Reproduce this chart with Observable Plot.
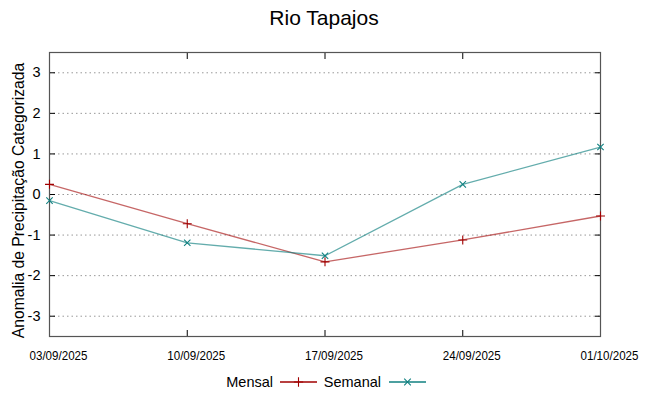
<!DOCTYPE html>
<html><head><meta charset="utf-8">
<script src="https://cdn.jsdelivr.net/npm/d3@7"></script>
<script src="https://cdn.jsdelivr.net/npm/@observablehq/plot@0.6"></script>
<style>
body{margin:0;background:#fff;font-family:"Liberation Sans",Arial,sans-serif;}
#wrap{position:relative;width:648px;height:396px;overflow:hidden;}
#title{position:absolute;top:6px;left:0;width:648px;text-align:center;font-size:21px;color:#000;}
#legend{position:absolute;left:0;top:370px;}
#chart{position:absolute;left:0;top:0;}
</style></head>
<body><div id="wrap"><div id="chart"></div><div id="title">Rio Tapajos</div><div id="legend"></div></div>
<script>
const dates = ["2025-09-03","2025-09-10","2025-09-17","2025-09-24","2025-10-01"];
const mensal = [0.25, -0.72, -1.66, -1.12, -0.53];
const semanal = [-0.15, -1.19, -1.51, 0.25, 1.17];
const yTicks = [-3,-2,-1,0,1,2,3];
const title = "Rio Tapajos";
const yLabel = "Anomalia de Precipitação Categorizada";

const parse = d3.utcParse("%Y-%m-%d");
const xDates = dates.map(parse);
const mData = xDates.map((d,i)=>({date:d,v:mensal[i]}));
const sData = xDates.map((d,i)=>({date:d,v:semanal[i]}));
const fmt = d3.utcFormat("%d/%m/%Y");
const cM = "#a00000", cS = "#108080";

const plot = Plot.plot({
  width:648, height:396,
  marginLeft:49, marginRight:48, marginTop:52, marginBottom:60,
  style:{fontFamily:"Liberation Sans, Arial, sans-serif", background:"white", overflow:"visible"},
  x:{type:"utc", domain:[xDates[0], xDates[xDates.length-1]]},
  y:{domain:[-3.5,3.5]},
  marks:[
    Plot.ruleY(yTicks,{stroke:"#999",strokeDasharray:"1.5,3",strokeWidth:1}),
    Plot.axisY({ticks:yTicks, anchor:"left", tickSize:-6, label:null, tickFormat:()=>"" , stroke:"#000"}),
    Plot.axisY({ticks:yTicks, anchor:"right", tickSize:-6, label:null, tickFormat:()=>"", stroke:"#000"}),
    Plot.axisY({ticks:yTicks, anchor:"left", tickSize:0, tickPadding:9, fontSize:14.5, label:null, tickFormat:d=>String(d).replace("−","-")}),
    Plot.axisX({ticks:xDates, anchor:"bottom", tickSize:-6, tickFormat:()=>"", label:null}),
    Plot.axisX({ticks:xDates, anchor:"top", tickSize:-6, tickFormat:()=>"", label:null}),
    Plot.axisX({ticks:xDates, anchor:"bottom", tickSize:0, tickPadding:14, dx:9, fontSize:13, label:null, tickFormat:fmt}),
    Plot.frame({stroke:"#555", strokeWidth:1.2}),
    Plot.line(mData,{x:"date",y:"v",stroke:cM,strokeWidth:1.3,strokeOpacity:0.6}),
    Plot.line(sData,{x:"date",y:"v",stroke:cS,strokeWidth:1.3,strokeOpacity:0.65}),
    Plot.dot(mData,{x:"date",y:"v",symbol:"plus",r:3,stroke:cM,strokeWidth:1.1}),
    Plot.dot(sData,{x:"date",y:"v",symbol:"times",r:3,stroke:cS,strokeWidth:1.1}),
    Plot.text([yLabel],{frameAnchor:"left",dx:-31,dy:6,rotate:-90,fontSize:15.7,fill:"#000",textAnchor:"middle"})
  ]
});
document.getElementById("chart").appendChild(plot);
d3.select(plot).selectAll("text").each(function(){
  if (/^\d\d\/\d\d\/\d{4}$/.test(this.textContent.trim())) {
    d3.select(this).attr("textLength",58).attr("lengthAdjust","spacingAndGlyphs");
  }
});

// legend
const lg = d3.select("#legend").append("svg").attr("width",648).attr("height",26)
  .style("font-family","Liberation Sans, Arial, sans-serif");
const items=[{name:"Mensal",c:cM,sym:d3.symbolPlus,tx:273,lx:280},{name:"Semanal",c:cS,sym:d3.symbolTimes,tx:381,lx:389}];
items.forEach(it=>{
  lg.append("text").attr("x",it.tx).attr("y",17).attr("text-anchor","end").attr("font-size",14.5).text(it.name);
  lg.append("line").attr("x1",it.lx).attr("x2",it.lx+37).attr("y1",12).attr("y2",12).attr("stroke",it.c).attr("stroke-width",1.3);
  lg.append("path").attr("d",d3.symbol(it.sym,30)()).attr("transform",`translate(${it.lx+18.5},12)`).attr("fill","none").attr("stroke",it.c).attr("stroke-width",1.1);
});
</script></body></html>
